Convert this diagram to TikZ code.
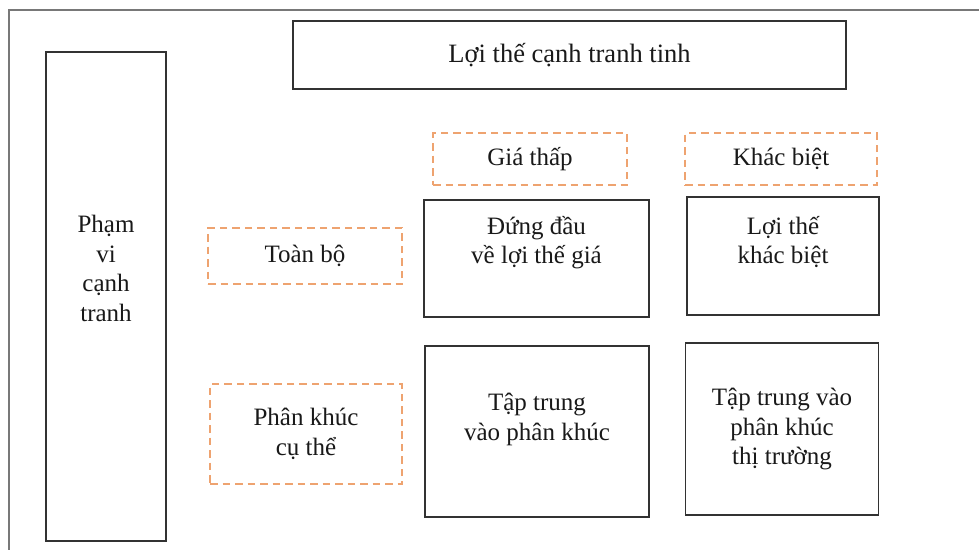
\documentclass[tikz,border=0pt]{standalone}
\usepackage{fontspec}
\setmainfont{Liberation Serif}
\usetikzlibrary{positioning}

\definecolor{dashorange}{RGB}{238,163,112}
\definecolor{boxgray}{RGB}{50,50,50}
\definecolor{framegray}{RGB}{120,120,120}
\newcommand{\cellfont}{\fontsize{25}{29.5}\selectfont}

\begin{document}
\begin{tikzpicture}[x=1pt, y=-1pt]
% STYLES
\tikzset{%
    option/.style={%
draw=dashorange,
line width=1.8pt,
dash pattern=on 7.5pt off 5pt,
rectangle,
inner sep=0pt,
align=center,
text=black!90,
font=\cellfont
                  },
    strategy/.style={%
draw=boxgray,
line width=1.7pt,
rectangle,
inner sep=0pt,
text=black!90,
font=\cellfont
                  },
    caption/.style={%
align=center,
text=black!90,
font=\cellfont
                  }
             }
\useasboundingbox (0,0) rectangle (979,549);
\fill[white] (0,0) rectangle (979,549);

% Outer frame (cut by the page edge)
\draw[framegray, line width=2pt] (990,10) -- (9,10) -- (9,560);

% Draw axes
\node [strategy, minimum width=120pt, minimum height=489pt,
       label={[caption, yshift=28pt]center:{Phạm\\vi\\cạnh\\tranh}}] (scope) at (106,296.5) {};
\node [strategy, minimum width=553pt, minimum height=68pt,
       font=\fontsize{26.5}{30}\selectfont] (advantage) at (569.5,55) {Lợi thế cạnh tranh tinh};

% Draw options
\node [option, minimum width=194pt, minimum height=52pt] (lowcost) at (530,159) {Giá thấp};
\node [option, minimum width=192pt, minimum height=52pt] (differ) at (781,159) {Khác biệt};
\node [option, minimum width=194pt, minimum height=56pt] (broad) at (305,256) {Toàn bộ};
\node [option, minimum width=192pt, minimum height=100pt] (narrow) at (306,434)
      {\raisebox{9pt}{\parbox{180pt}{\centering Phân khúc\\cụ thể}}};

% Draw strategies
\node [strategy, minimum width=225pt, minimum height=117pt,
       label={[caption, yshift=16pt]center:{Đứng đầu\\về lợi thế giá}}] (costlead) at (536.5,258.5) {};
\node [strategy, minimum width=192pt, minimum height=118pt,
       label={[caption, yshift=14pt]center:{Lợi thế\\khác biệt}}] (difflead) at (783,256) {};
\node [strategy, minimum width=224pt, minimum height=171pt,
       label={[caption, yshift=12pt]center:{Tập trung\\vào phân khúc}}] (costfocus) at (537,431.5) {};
\node [strategy, minimum width=193pt, minimum height=172pt,
       label={[caption]center:{Tập trung vào\\phân khúc\\thị trường}}] (difffocus) at (782,429) {};
\end{tikzpicture}
\end{document}
